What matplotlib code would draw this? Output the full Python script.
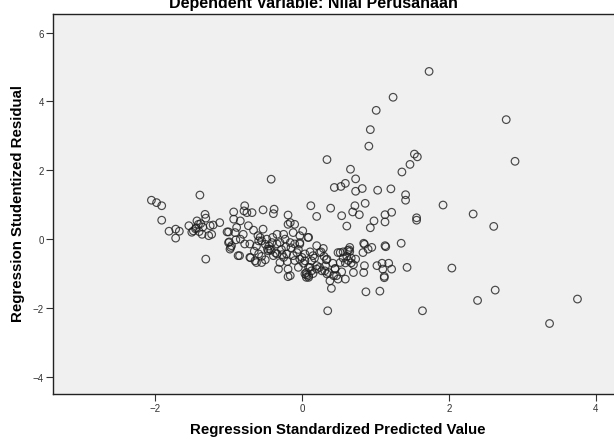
import matplotlib
matplotlib.use("Agg")
from matplotlib import pyplot as plt

plt.rcParams['font.family'] = ['Liberation Sans', 'DejaVu Sans']

# Standardized predicted value (x) and studentized residual (y)
pred = [
    -2.05, -1.98, -1.91, -1.91, -1.81, -1.72, -1.72, -1.67, -1.39, -1.31,
    -1.54, -1.48, -1.43, -1.41, -1.45, -1.50, -1.32, -1.31, -1.25, -1.21,
    -1.12, -1.27, -1.23, -1.36, -1.40, -1.44, -1.38, -1.35,
    -0.93, -0.93, -1.00, -0.91, -0.89, -1.00, -0.96, -0.90, -0.98, -0.87,
    -1.02, -0.99, -0.97, -0.85, -0.84, -0.84, -0.80, -0.78, -0.78, -0.79,
    -0.75, -0.68, -0.73, -0.66, -0.71, -0.70, -0.59, -0.57, -0.53, -0.53,
    -0.48, -0.42, -0.38, -0.39, -0.41, -0.34, -0.34, -0.25, -0.23, -0.19,
    -0.16, -0.19, -0.10, -0.12, 0.01, 0.09, -0.03, -0.16, -0.10, -0.03,
    0.20, 0.29,
    -0.71, -0.64, -0.59, -0.55, -0.62, -0.50, -0.46, -0.44, -0.42, -0.39,
    -0.34, -0.30, -0.32, -0.25, -0.21, -0.19, -0.16, -0.19, -0.12, -0.07,
    -0.05, 0.00, 0.04, 0.06, 0.09, 0.11, 0.13, 0.20, 0.24, 0.27,
    0.33, 0.36, 0.38, 0.40, 0.45, 0.47, 0.49, 0.35, 0.04, 0.06,
    0.26, 0.32, 0.34,
    -0.03, 0.15, 0.11, 0.04, 0.09, 0.13, 0.06, 0.09, 0.20, 0.24,
    0.31, 0.34, 0.43, 0.49, 0.45, 0.54,
    -0.60, -0.55, -0.50, -0.45, -0.40, -0.62, -0.47, -0.30, -0.22, -0.15,
    -0.28,
    -0.36, -0.27, -0.10, 0.02, 0.17, -0.55, -0.65, -0.05, 0.30, 0.42,
    -0.20, 0.15,
    0.52, 0.52, 0.56, 0.62, 0.65, 0.56, 0.61, 0.59, 0.67, 0.67,
    0.63, 0.59,
    0.64, 0.73, 0.70, 0.85, 1.02, 1.09, 1.18, 1.10, 1.22, 1.12,
    1.12, 1.43, 2.04, 0.84, 0.70, 0.87, 1.06, 1.64, 2.39, 2.63,
    3.75, 3.37, 0.83, 0.85, 0.95, 0.90, 1.14, 1.35, 0.65, 0.84,
    1.13,
    1.73, 1.24, 1.01, 0.93, 0.91, 2.78, 2.90, 0.34, 1.53, 1.57,
    1.47, 1.36, 0.66, 0.73, 0.59, 0.53, 0.44, 0.73, 0.82, 1.03,
    1.21, 1.41, 1.41, 1.92, 2.33, 2.61, 0.12, 0.39, 0.54, 0.20,
    0.72, 0.86, 0.69, 0.78, 0.61, 1.13, 1.22, 0.98, 1.13, 0.93,
    1.56, 1.56, 0.08, -0.03,
]
resid = [
    1.13, 1.06, 0.97, 0.55, 0.23, 0.29, 0.03, 0.23, 1.28, -0.58,
    0.39, 0.24, 0.53, 0.43, 0.30, 0.20, 0.72, 0.61, 0.39, 0.41,
    0.48, 0.10, 0.14, 0.14, 0.22, 0.33, 0.45, 0.35,
    0.79, 0.58, 0.21, 0.19, 0.34, -0.10, -0.19, -0.02, -0.29, -0.48,
    0.21, -0.08, -0.24, -0.48, 0.53, 0.00, 0.14, -0.14, 0.97, 0.82,
    0.77, 0.77, 0.39, 0.26, -0.14, -0.54, -0.05, 0.05, 0.29, 0.85,
    0.00, 1.74, 0.87, 0.74, -0.10, -0.14, 0.14, 0.14, 0.00, 0.70,
    0.48, 0.43, 0.43, 0.19, 0.24, 0.05, 0.10, -0.10, -0.14, -0.10,
    -0.19, -0.27,
    -0.53, -0.63, -0.43, -0.68, -0.68, -0.60, -0.34, -0.29, -0.32, -0.48,
    -0.43, -0.68, -0.87, -0.53, -0.43, -0.87, -1.06, -1.09, -0.48, -0.39,
    -0.82, -0.53, -0.43, -0.97, -1.06, -0.82, -0.63, -0.77, -0.39, -0.92,
    -0.60, -0.97, -1.21, -1.43, -0.87, -1.06, -0.39, -2.08, -1.01, -1.11,
    -0.37, -0.77, -0.58,
    -0.58, -0.48, -0.37, -0.63, -0.82, -0.92, -1.04, -1.11, -0.87, -0.82,
    -0.92, -1.01, -1.06, -1.16, -0.85, -0.95,
    0.10, -0.05, -0.15, -0.20, 0.05, -0.20, -0.29, -0.10, -0.22, -0.25,
    -0.30,
    -0.40, -0.45, -0.62, -0.70, -0.55, -0.50, -0.35, -0.30, -0.50, -0.70,
    -0.65, -1.00,
    -0.39, -0.68, -0.37, -0.33, -0.36, -0.55, -0.50, -0.69, -0.55, -0.69,
    -0.62, -1.16,
    -0.31, -0.58, -0.74, -0.77, -0.77, -0.70, -0.70, -0.87, -0.87, -1.08,
    -1.12, -0.82, -0.84, -0.97, -0.97, -1.53, -1.51, -2.08, -1.78, -1.48,
    -1.74, -2.45, -0.39, -0.15, -0.24, -0.29, -0.22, -0.12, -0.24, -0.12,
    -0.19,
    4.87, 4.12, 3.74, 3.18, 2.70, 3.47, 2.26, 2.31, 2.47, 2.39,
    2.17, 1.95, 2.03, 1.75, 1.62, 1.53, 1.50, 1.39, 1.47, 1.42,
    1.46, 1.29, 1.13, 0.99, 0.73, 0.37, 0.97, 0.90, 0.68, 0.66,
    0.97, 1.04, 0.79, 0.71, 0.38, 0.71, 0.78, 0.53, 0.50, 0.33,
    0.62, 0.55, 0.05, -0.14,
]

x_ticks = [-2, 0, 2, 4]
y_ticks = [-4, -2, 0, 2, 4, 6]

fig = plt.figure(figsize=(6.14, 4.39), dpi=100)
ax = fig.add_axes([0.0863, 0.100, 0.92, 0.866])
ax.set_facecolor("#f0f0f0")

ax.scatter(pred, resid, s=30, facecolors="none", edgecolors="#1e1e1e",
           linewidths=0.85, alpha=0.8)

ax.set_xlim(-3.39, 4.3)
ax.set_ylim(-4.5, 6.54)
ax.set_xticks(x_ticks)
ax.set_yticks(y_ticks)
ax.tick_params(direction="out", length=5, width=0.8, labelsize=7,
               colors="#333333", pad=1.5)
for side in ["left", "bottom", "top"]:
    ax.spines[side].set_color("#222222")
    ax.spines[side].set_linewidth(1.0)
ax.spines["right"].set_visible(False)

# axis titles placed like the SPSS output
fig.text(338 / 614, 1 - 430 / 439, "Regression Standardized Predicted Value",
         ha="center", va="center", fontsize=10.8, fontweight="bold")
fig.text(18 / 614, 1 - 203 / 439, "Regression Studentized Residual",
         ha="center", va="center", rotation=90, fontsize=10.8, fontweight="bold")

# title sits mostly above the top edge, as in the original crop
fig.text(313 / 614, 0.982, "Dependent Variable: Nilai Perusahaan", ha="center",
         va="baseline", fontsize=11.5, fontweight="bold")

fig.savefig("out.png", dpi=100)
